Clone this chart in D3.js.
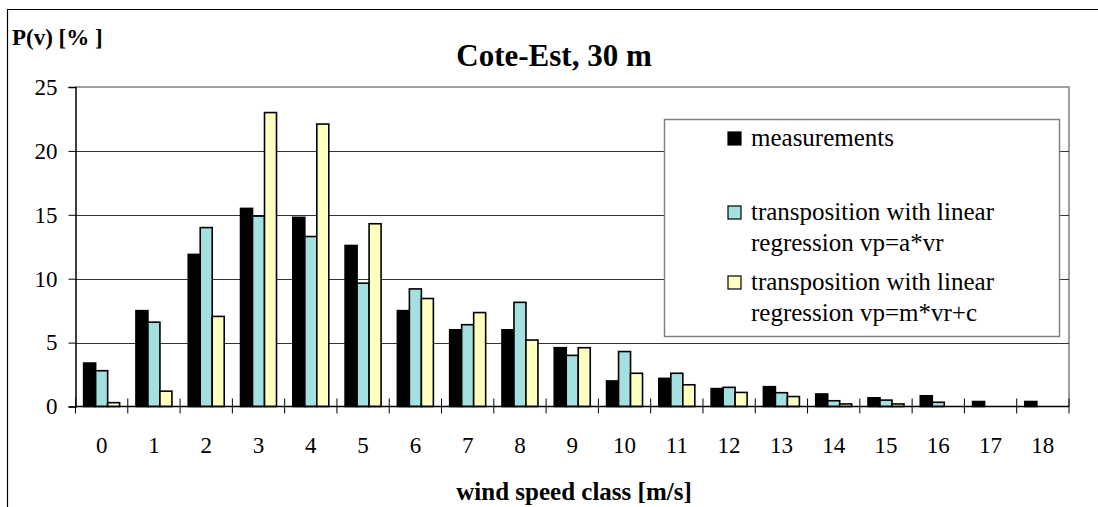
<!DOCTYPE html>
<html>
<head>
<meta charset="utf-8">
<script src="https://cdn.jsdelivr.net/npm/d3@7"></script>
<style>
  html, body { margin: 0; padding: 0; background: #fff; }
  svg { display: block; }
</style>
</head>
<body>
<svg id="chart" width="1098" height="507"></svg>
<script>
// Wind speed classes [m/s]
const categories = ["0","1","2","3","4","5","6","7","8","9","10","11","12","13","14","15","16","17","18"];

// Frequency P(v) in % per class
const measurements = [3.4, 7.5, 11.9, 15.5, 14.8, 12.6, 7.5, 6.0, 6.0, 4.6, 2.0, 2.2, 1.4, 1.55, 0.98, 0.68, 0.84, 0.39, 0.39];
const linearA      = [2.8, 6.6, 14.0, 14.9, 13.3, 9.65, 9.2, 6.4, 8.15, 4.0, 4.3, 2.6, 1.5, 1.08, 0.45, 0.5, 0.33, 0, 0];
const linearMC     = [0.3, 1.2, 7.05, 23.0, 22.1, 14.3, 8.45, 7.35, 5.2, 4.6, 2.6, 1.7, 1.1, 0.78, 0.2, 0.2, 0, 0, 0];

const yTicks = [0, 5, 10, 15, 20, 25];

const seriesNames = [
  ["measurements"],
  ["transposition with linear", "regression vp=a*vr"],
  ["transposition with linear", "regression vp=m*vr+c"]
];
const seriesColors = ["#000000", "#a4e0e0", "#ffffc0"];
const seriesValues = [measurements, linearA, linearMC];

const FONT = "Liberation Serif";

const svg = d3.select("#chart");

// Outer chart frame (left and top edges)
svg.append("path")
  .attr("d", "M7.5,507 L7.5,9.5 L1098,9.5")
  .attr("fill", "none").attr("stroke", "#000").attr("stroke-width", 1.2);

const plot = { left: 75.5, right: 1069, top: 87, bottom: 406.5 };

const x = d3.scaleBand().domain(categories).range([plot.left, plot.right]).paddingInner(0).paddingOuter(0);
const xs = d3.scaleBand().domain([0, 1, 2]).range([0, x.bandwidth()]).paddingInner(0).paddingOuter(0.68);
const y = d3.scaleLinear().domain([0, 25]).range([plot.bottom, plot.top]);

// Plot area border (top and right)
svg.append("path")
  .attr("d", `M${plot.left},${plot.top} L${plot.right},${plot.top} L${plot.right},${plot.bottom}`)
  .attr("fill", "none").attr("stroke", "#808080").attr("stroke-width", 1.5);

// Horizontal gridlines
svg.append("g").selectAll("line")
  .data(yTicks.filter(d => d > 0 && d < 25))
  .join("line")
  .attr("x1", plot.left).attr("x2", plot.right)
  .attr("y1", d => Math.round(y(d)) + 0.5).attr("y2", d => Math.round(y(d)) + 0.5)
  .attr("stroke", "#333").attr("stroke-width", 1);

// Bars
const groups = svg.append("g").selectAll("g")
  .data(seriesValues)
  .join("g")
  .attr("fill", (d, i) => seriesColors[i]);

groups.each(function(vals, si) {
  d3.select(this).selectAll("rect")
    .data(vals.map((v, ci) => ({ v, c: categories[ci] })).filter(d => d.v > 0))
    .join("rect")
    .attr("x", d => x(d.c) + xs(si))
    .attr("width", xs.bandwidth())
    .attr("y", d => y(d.v))
    .attr("height", d => y(0) - y(d.v))
    .attr("stroke", "#000")
    .attr("stroke-width", 1.6);
});

// Y axis
const yAxis = d3.axisLeft(y).tickValues(yTicks).tickSize(7).tickPadding(11).tickFormat(d3.format("d"));
const gy = svg.append("g").attr("transform", `translate(${plot.left},0)`).call(yAxis);
gy.select(".domain").attr("stroke", "#000").attr("stroke-width", 1.5);
gy.selectAll(".tick line").attr("stroke", "#000");
gy.selectAll(".tick text")
  .attr("font-family", FONT).attr("font-size", 23).attr("fill", "#000");

// X axis with crossing tick marks at category boundaries
svg.append("line")
  .attr("x1", plot.left).attr("x2", plot.right)
  .attr("y1", plot.bottom).attr("y2", plot.bottom)
  .attr("stroke", "#000").attr("stroke-width", 1.5);
svg.append("g").selectAll("line")
  .data(categories.concat(["end"]))
  .join("line")
  .attr("x1", (d, i) => plot.left + i * x.step()).attr("x2", (d, i) => plot.left + i * x.step())
  .attr("y1", plot.bottom - 8).attr("y2", plot.bottom + 7)
  .attr("stroke", "#000").attr("stroke-width", 1);
svg.append("g").selectAll("text")
  .data(categories)
  .join("text")
  .attr("x", d => x(d) + x.bandwidth() / 2)
  .attr("y", 453)
  .attr("text-anchor", "middle")
  .attr("font-family", FONT)
  .attr("font-size", 23)
  .text(d => d);

// Titles
svg.append("text").attr("x", 12).attr("y", 45)
  .attr("font-family", FONT).attr("font-size", 23).attr("font-weight", "bold").text("P(v) [% ]");
svg.append("text").attr("x", 554).attr("y", 66).attr("text-anchor", "middle")
  .attr("font-family", FONT).attr("font-size", 31).attr("font-weight", "bold").text("Cote-Est, 30 m");
svg.append("text").attr("x", 574).attr("y", 500).attr("text-anchor", "middle")
  .attr("font-family", FONT).attr("font-size", 25).attr("font-weight", "bold").text("wind speed class [m/s]");

// Legend
const legend = svg.append("g");
legend.append("rect").attr("x", 664.5).attr("y", 119.5).attr("width", 395).attr("height", 217)
  .attr("fill", "#fff").attr("stroke", "#808080").attr("stroke-width", 1.5);
const legendTop = [146, 220, 290];
seriesNames.forEach((lines, i) => {
  legend.append("rect")
    .attr("x", 728).attr("y", legendTop[i] - 14).attr("width", 13).attr("height", 13)
    .attr("fill", seriesColors[i]).attr("stroke", "#000").attr("stroke-width", 1.2);
  lines.forEach((t, j) => {
    legend.append("text").attr("x", 751).attr("y", legendTop[i] + j * 31)
      .attr("font-family", FONT).attr("font-size", 25).text(t);
  });
});
</script>
</body>
</html>
